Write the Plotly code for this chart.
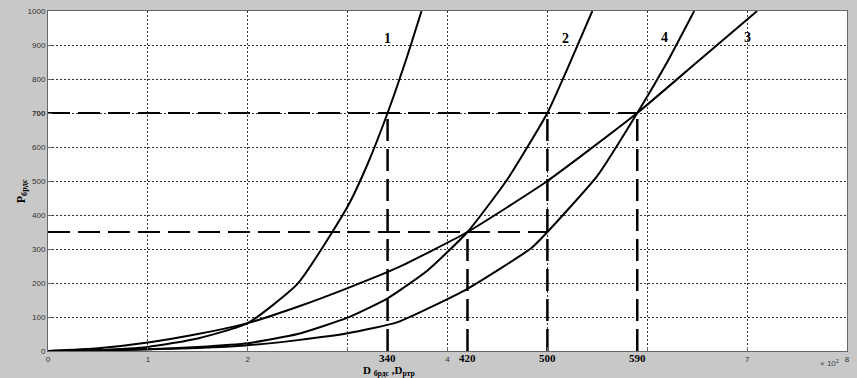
import plotly.graph_objects as go

# Curve data (x in units of 10^2, y = P)
c1_x = [0, 0.5, 1.0, 1.5, 2.0, 2.5, 3.0, 3.2, 3.4, 3.6, 3.74]
c1_y = [0, 3, 12, 37, 82, 198, 425, 550, 700, 870, 1000]

c2_x = [0, 0.5, 1.0, 1.5, 2.0, 2.5, 3.0, 3.4, 3.8, 4.2, 4.6, 5.0, 5.2, 5.45]
c2_y = [0, 1, 5, 12, 23, 50, 98, 155, 237, 350, 505, 700, 830, 1000]

c3_x = [0, 0.5, 1.0, 1.5, 2.0, 2.5, 3.0, 3.5, 4.2, 5.0, 5.9, 6.5, 7.1]
c3_y = [0, 8, 25, 50, 82, 130, 185, 245, 350, 500, 700, 850, 1000]

c4_x = [0, 1.0, 1.5, 2.0, 2.5, 3.0, 3.5, 4.2, 4.84, 5.0, 5.5, 5.9, 6.2, 6.47]
c4_y = [0, 5, 9, 17, 32, 52, 85, 183, 303, 350, 515, 700, 850, 1000]

curve_names = ["1", "2", "3", "4"]
label_x = [3.4, 5.18, 7.0, 6.17]
label_y = [918, 918, 923, 923]

# Reference (dashed) construction lines
h_levels = [700, 350]
h_ends = [5.9, 5.0]
v_positions = [3.4, 4.2, 5.0, 5.9]
v_tops = [700, 350, 700, 700]
v_labels = ["340", "420", "500", "590"]

x_tickvals = [0, 1, 2, 3, 4, 5, 6, 7, 8]
x_ticktext = ["0", "1", "2", "", "4", "", "", "7", "8"]
y_tickvals = [0, 100, 200, 300, 400, 500, 600, 700, 800, 900, 1000]
y_ticktext = ["0", "100", "200", "300", "400", "500", "600", "<b>700</b>", "800", "900", "1000"]

fig = go.Figure()

dash_style = "22px,8px"
for lvl, xe in zip(h_levels, h_ends):
    fig.add_trace(go.Scatter(x=[0, xe], y=[lvl, lvl], mode="lines",
                             line=dict(color="black", width=2, dash=dash_style),
                             hoverinfo="skip", showlegend=False))
for xv, yt in zip(v_positions, v_tops):
    fig.add_trace(go.Scatter(x=[xv, xv], y=[0, yt], mode="lines",
                             line=dict(color="black", width=2.5, dash=dash_style),
                             hoverinfo="skip", showlegend=False))

for xs, ys in [(c1_x, c1_y), (c2_x, c2_y), (c3_x, c3_y), (c4_x, c4_y)]:
    fig.add_trace(go.Scatter(x=xs, y=ys, mode="lines",
                             line=dict(color="black", width=2, shape="spline", smoothing=0.5),
                             showlegend=False))

serif = "Liberation Serif, DejaVu Serif, serif"
for name, lx, ly in zip(curve_names, label_x, label_y):
    fig.add_annotation(x=lx, y=ly, text="<b>" + name + "</b>", showarrow=False,
                       font=dict(family=serif, size=14, color="black"))

for xv, lab in zip(v_positions, v_labels):
    fig.add_annotation(x=xv, y=0, xref="x", yref="paper", yanchor="top", text="<b>" + lab + "</b>",
                       showarrow=False, yshift=1,
                       font=dict(family=serif, size=11, color="black"))

fig.add_annotation(x=3.41, y=0, xref="x", yref="paper", yanchor="top", yshift=-11,
                   text="<b>D <sub>брдс</sub> ,D<sub>ртр</sub></b>", showarrow=False,
                   font=dict(family=serif, size=11, color="black"))
fig.add_annotation(x=-0.045, y=0.47, xref="paper", yref="paper", textangle=-90,
                   text="<b>P<sub>брдс</sub></b>", showarrow=False,
                   font=dict(family=serif, size=12, color="black"))
fig.add_annotation(x=0.9925, y=-0.055, xref="paper", yref="paper",
                   text="× 10<sup>2</sup>", showarrow=False,
                   font=dict(family="Liberation Sans, Arial, sans-serif", size=8, color="#444"))

axis_common = dict(showline=True, linecolor="#666", linewidth=1, mirror=True,
                   showgrid=True, gridcolor="#333", gridwidth=1, griddash="2px,2px",
                   zeroline=False, ticks="inside", ticklen=4, tickcolor="#666",
                   tickfont=dict(family="Liberation Sans, Arial, sans-serif", size=8, color="#333"))

fig.update_xaxes(range=[0, 8], tickmode="array", tickvals=x_tickvals, ticktext=x_ticktext, **axis_common)
fig.update_yaxes(range=[0, 1000], tickmode="array", tickvals=y_tickvals, ticktext=y_ticktext, **axis_common)

fig.update_layout(width=857, height=378, margin=dict(l=48, r=9, t=7, b=27),
                  paper_bgcolor="#c8c8c8", plot_bgcolor="white")

fig.write_html("out.html", config={"displayModeBar": False},
               post_script="document.body.style.margin='0';document.body.style.padding='0';"
                           "document.body.style.background='#c8c8c8';")
